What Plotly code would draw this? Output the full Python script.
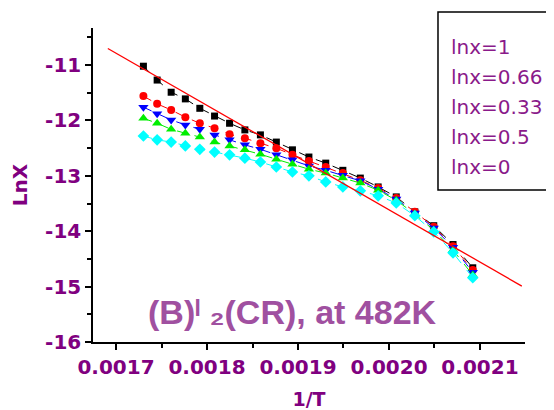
import plotly.graph_objects as go

# 1/T values (shared by all series)
inv_T = [0.0017301, 0.0017452, 0.0017606, 0.0017762, 0.0017921, 0.0018083, 0.0018248,
         0.0018416, 0.0018587, 0.0018762, 0.0018939, 0.0019120, 0.0019305, 0.0019493,
         0.0019685, 0.0019881, 0.0020080, 0.0020284, 0.0020492, 0.0020704, 0.0020921]

lnx_1 = [-11.02, -11.27, -11.49, -11.61, -11.78, -11.92, -12.05, -12.17, -12.26, -12.39,
         -12.53, -12.66, -12.77, -12.90, -13.04, -13.20, -13.38, -13.65, -13.90, -14.24, -14.66]
lnx_066 = [-11.56, -11.70, -11.81, -11.94, -12.05, -12.14, -12.25, -12.32, -12.41, -12.50,
           -12.62, -12.73, -12.84, -12.95, -13.08, -13.22, -13.40, -13.65, -13.92, -14.27, -14.70]
lnx_033 = [-11.76, -11.88, -11.99, -12.08, -12.16, -12.26, -12.35, -12.44, -12.52, -12.62,
           -12.71, -12.82, -12.90, -12.99, -13.09, -13.24, -13.42, -13.67, -13.94, -14.29, -14.74]
lnx_05 = [-11.96, -12.05, -12.16, -12.23, -12.30, -12.39, -12.46, -12.53, -12.61, -12.70,
          -12.79, -12.88, -12.95, -13.04, -13.13, -13.26, -13.44, -13.69, -13.98, -14.34, -14.79]
lnx_0 = [-12.28, -12.35, -12.39, -12.46, -12.52, -12.57, -12.62, -12.68, -12.75, -12.84,
         -12.93, -13.00, -13.11, -13.20, -13.27, -13.36, -13.49, -13.72, -14.01, -14.39, -14.84]

fit_x = [0.001691, 0.002146]
fit_y = [-10.70, -14.99]

legend_labels = ["lnx=1", "lnx=0.66", "lnx=0.33", "lnx=0.5", "lnx=0"]
x_ticks = [0.0017, 0.0018, 0.0019, 0.0020, 0.0021]
x_tick_text = ["0.0017", "0.0018", "0.0019", "0.0020", "0.0021"]
y_ticks = [-16, -15, -14, -13, -12, -11]
y_tick_text = ["-16", "-15", "-14", "-13", "-12", "-11"]

PURPLE = "#800080"

series = [
    (lnx_1, "black", "square", 7),
    (lnx_066, "red", "circle", 8),
    (lnx_033, "blue", "triangle-down", 9),
    (lnx_05, "#00ee00", "triangle-up", 9),
    (lnx_0, "cyan", "diamond", 9),
]

fig = go.Figure()
for (ys, col, sym, sz), name in zip(series, legend_labels):
    fig.add_trace(go.Scatter(
        x=inv_T, y=ys, mode="lines+markers", name=name,
        line=dict(color=col, width=1, dash="dash"),
        marker=dict(color=col, symbol=sym, size=sz, line=dict(width=0)),
        showlegend=False))

fig.add_trace(go.Scatter(x=fit_x, y=fit_y, mode="lines",
                         line=dict(color="red", width=1.3), showlegend=False))

DV = "DejaVu Sans"
AR = "Liberation Sans, Arial"

# page body has an 8px default margin, so the figure is sized/offset to compensate
fig.update_layout(
    width=546, height=402,
    margin=dict(l=85, r=29, t=20, b=68, autoexpand=False),
    paper_bgcolor="white", plot_bgcolor="white",
    xaxis=dict(range=[0.0016747, 0.0021495], tickvals=x_ticks, ticktext=x_tick_text,
               automargin=False,
               showgrid=False, zeroline=False, showline=True, linecolor="black", linewidth=1.5,
               ticks="outside", ticklen=6, tickwidth=1.5, tickcolor="black",
               minor=dict(ticks="outside", ticklen=4, tickwidth=1.5, tickcolor="black",
                          dtick=0.00005, tick0=0.0017),
               tickfont=dict(family=DV, size=20, color=PURPLE, weight="bold"),
               title=dict(text="<b>1/T</b>", font=dict(family=DV, size=19, color=PURPLE), standoff=16)),
    yaxis=dict(range=[-16, -10.33], tickvals=y_ticks, ticktext=y_tick_text,
               automargin=False,
               showgrid=False, zeroline=False, showline=True, linecolor="black", linewidth=1.5,
               ticks="outside", ticklen=6, tickwidth=1.5, tickcolor="black",
               minor=dict(ticks="outside", ticklen=4, tickwidth=1.5, tickcolor="black",
                          dtick=0.5, tick0=-16),
               tickfont=dict(family=DV, size=20, color=PURPLE, weight="bold"),
               title=dict(text="<b>LnX</b>", font=dict(family=DV, size=20, color=PURPLE), standoff=12)),
)

# legend box (text only, as in the reference)
fig.add_shape(type="rect", xref="paper", yref="paper",
              x0=0.7986, x1=1.053, y0=0.484, y1=1.051,
              line=dict(color="black", width=1.5), fillcolor="white", layer="above")
legend_y_px = [47, 77, 107, 137, 167]
for lab, py in zip(legend_labels, legend_y_px):
    fig.add_annotation(text=lab, xref="paper", yref="paper",
                       x=(449 - 93) / 432, y=(342 - py) / 314,
                       xanchor="left", yanchor="middle", showarrow=False,
                       font=dict(family=DV, size=20, color="#8a1a8a"))

fig.add_annotation(text="<b>(B)ˡ ₂(CR), at 482K</b>", xref="paper", yref="paper",
                   x=(146 - 93) / 432, y=(342 - 312) / 314, xanchor="left", yanchor="middle",
                   showarrow=False,
                   font=dict(family=AR, size=34, color="#a050a0"))

fig.write_html("out.html")
